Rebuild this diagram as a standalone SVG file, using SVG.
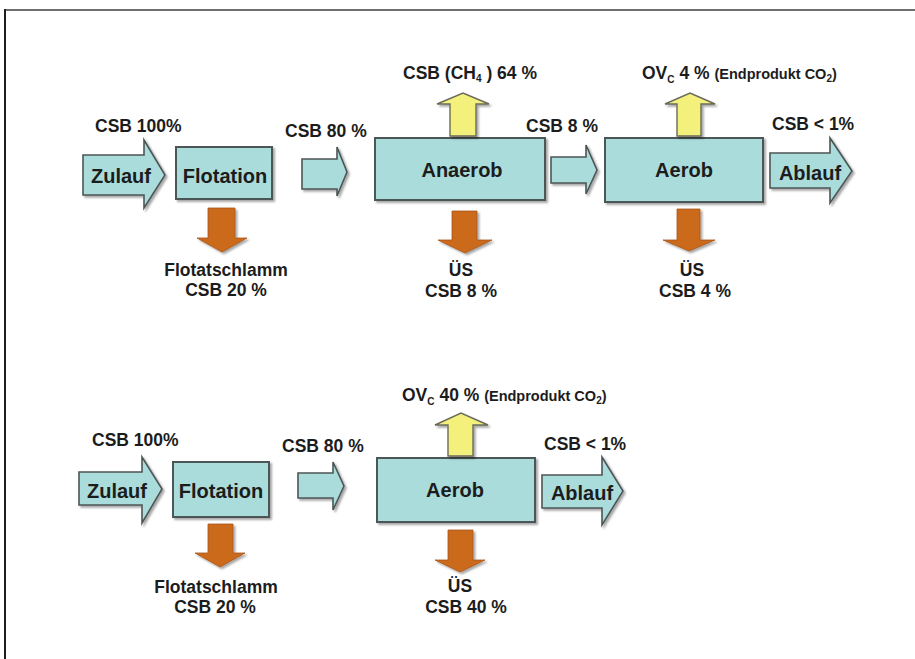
<svg xmlns="http://www.w3.org/2000/svg" width="915" height="659" viewBox="0 0 915 659">
<defs>
<filter id="sh" x="-10%" y="-10%" width="130%" height="130%">
<feGaussianBlur in="SourceAlpha" stdDeviation="1.2"/>
<feOffset dx="1.5" dy="1.5" result="b"/>
<feComponentTransfer><feFuncA type="linear" slope="0.35"/></feComponentTransfer>
<feMerge><feMergeNode/><feMergeNode in="SourceGraphic"/></feMerge>
</filter>
</defs>
<style>
.box{fill:#aadcdb;stroke:#4d5656;stroke-width:2;filter:url(#sh)}
.flow{fill:#aadcdb;stroke:#4d5656;stroke-width:1.6;stroke-linejoin:miter;filter:url(#sh)}
.gas{fill:#f4f07c;stroke:#6b6b5a;stroke-width:1.4;filter:url(#sh)}
.sl{fill:#cc6a1e;stroke:#a65518;stroke-width:0.8;filter:url(#sh)}
text{font-family:"Liberation Sans",Arial,sans-serif;font-weight:bold;fill:#1c1c1c}
.n{font-size:20px;text-anchor:middle}
.l{font-size:17.5px}
.c{font-size:17.5px;text-anchor:middle}
.s{font-size:14.5px}
.sub{font-size:10px}
</style>
<rect width="915" height="659" fill="#ffffff"/>
<line x1="5" y1="10" x2="915" y2="10" stroke="#6e6e6e" stroke-width="2"/>
<line x1="5" y1="9" x2="5" y2="659" stroke="#1e1e1e" stroke-width="2"/>

<!-- Row 1 -->
<g id="zulauf1">
<polygon class="flow" points="83,155 144,155 144,140 165,175 144,208 144,195 83,195"/>
<text class="n" x="121" y="183">Zulauf</text>
</g>
<g id="flotation1">
<rect class="box" x="176" y="147" width="96" height="52"/>
<text class="n" x="225" y="183">Flotation</text>
</g>
<g id="anaerob1">
<rect class="box" x="375" y="138" width="170" height="62"/>
<text class="n" x="462" y="177">Anaerob</text>
</g>
<g id="aerob1">
<rect class="box" x="605" y="138" width="158" height="64"/>
<text class="n" x="684" y="177">Aerob</text>
</g>
<g id="ablauf1">
<polygon class="flow" points="770,153 830,153 830,138 852,171 830,203 830,188 770,188"/>
<text class="n" x="810" y="180">Ablauf</text>
</g>

<!-- Row 2 -->
<g id="zulauf2">
<polygon class="flow" points="79,472 142,472 142,457 162,489 142,523 142,505 79,505"/>
<text class="n" x="117" y="498">Zulauf</text>
</g>
<g id="flotation2">
<rect class="box" x="173" y="462" width="96" height="55"/>
<text class="n" x="221" y="498">Flotation</text>
</g>
<g id="aerob2">
<rect class="box" x="377" y="458" width="158" height="64"/>
<text class="n" x="455" y="497">Aerob</text>
</g>
<g id="ablauf2">
<polygon class="flow" points="542,475 602,475 602,457 623,491 602,525 602,508 542,508"/>
<text class="n" x="582" y="500">Ablauf</text>
</g>

<g id="connectors">
<!-- row 1 flow arrows -->
<polygon class="flow" points="302,159 337,159 337,147 347,172 337,196 337,189 302,189"/>
<polygon class="flow" points="551,157 586,157 586,145 597,170 586,194 586,183 551,183"/>
<!-- row 1 gas -->
<polygon class="gas" points="450,136 450,104 437,104 463,93 489,104 476,104 476,136"/>
<polygon class="gas" points="677,136 677,104 665,104 690,93 715,104 701,104 701,136"/>
<!-- row 1 sludge -->
<polygon class="sl" points="208,208 235,208 235,238 247,238 222,252 197,238 208,238"/>
<polygon class="sl" points="452,211 477,211 477,240 492,240 465,253 438,240 452,240"/>
<polygon class="sl" points="677,209 700,209 700,240 715,240 689,251 663,240 677,240"/>
<!-- row 2 -->
<polygon class="flow" points="298,473 333,473 333,462 344,486 333,510 333,498 298,498"/>
<polygon class="gas" points="448,456 448,425 435,425 461,413 488,425 473,425 473,456"/>
<polygon class="sl" points="208,524 233,524 233,553 245,553 220,567 195,553 208,553"/>
<polygon class="sl" points="448,530 473,530 473,560 485,560 460,572 435,560 448,560"/>
</g>

<g id="labels">
<text class="l" x="95" y="132">CSB 100%</text>
<text class="l" x="285" y="137">CSB 80 %</text>
<text class="c" x="470" y="79">CSB (CH<tspan class="sub" dy="3">4</tspan><tspan dy="-3"> ) 64 %</tspan></text>
<text class="l" x="526" y="132">CSB 8 %</text>
<text class="l" x="642" y="79">OV<tspan class="sub" dy="4">C</tspan><tspan dy="-4"> 4 % </tspan><tspan class="s">(Endprodukt CO</tspan><tspan class="sub" dy="3">2</tspan><tspan class="s" dy="-3">)</tspan></text>
<text class="l" x="772" y="130">CSB &lt; 1%</text>
<text class="c" x="226" y="276">Flotatschlamm</text>
<text class="c" x="226" y="296">CSB 20 %</text>
<text class="c" x="461" y="276">ÜS</text>
<text class="c" x="461" y="297">CSB 8 %</text>
<text class="c" x="692" y="276">ÜS</text>
<text class="c" x="695" y="297">CSB 4 %</text>

<text class="l" x="92" y="446">CSB 100%</text>
<text class="l" x="282" y="452">CSB 80 %</text>
<text class="l" x="402" y="401">OV<tspan class="sub" dy="4">C</tspan><tspan dy="-4"> 40 % </tspan><tspan class="s">(Endprodukt CO</tspan><tspan class="sub" dy="3">2</tspan><tspan class="s" dy="-3">)</tspan></text>
<text class="l" x="544" y="450">CSB &lt; 1%</text>
<text class="c" x="216" y="593">Flotatschlamm</text>
<text class="c" x="215" y="613">CSB 20 %</text>
<text class="c" x="460" y="592">ÜS</text>
<text class="c" x="466" y="613">CSB 40 %</text>
</g>
</svg>
